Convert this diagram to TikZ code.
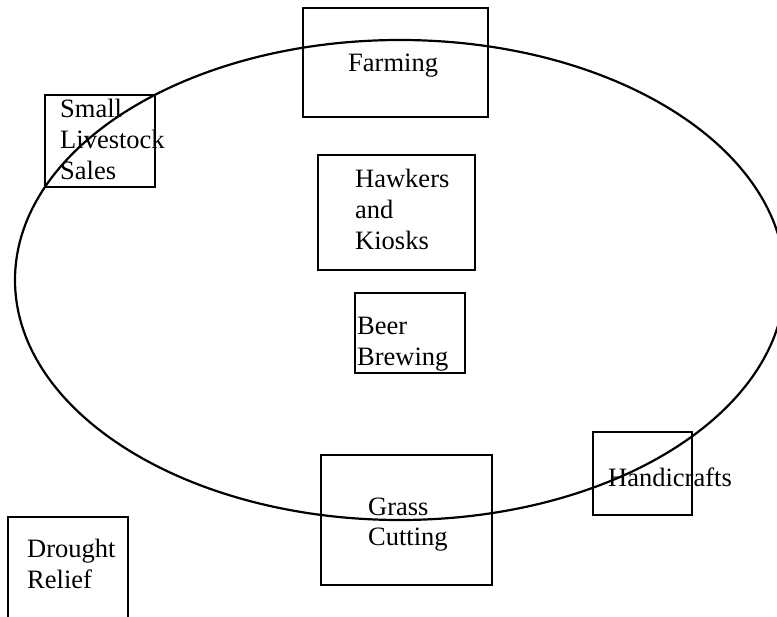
\documentclass[tikz,border=0pt]{standalone}
\usepackage{fontspec}
\setmainfont{Liberation Serif}
\usepackage{tikz}

\tikzset{
  box/.style={draw, line width=2.2pt, inner sep=0pt},
  lbl/.style={inner sep=0pt, anchor=base west, align=left,
    font=\fontsize{26.5}{31}\selectfont},
}

\begin{document}
\begin{tikzpicture}[x=1pt, y=-1pt]
\useasboundingbox (0,0) rectangle (777,617);
% the boxes
\node[box, minimum width=185pt, minimum height=109pt] (farm) at (395.5,62.5) {};
\node[box, minimum width=110pt, minimum height=92pt] (stock) at (100,141) {};
\node[box, minimum width=157pt, minimum height=115pt] (hawk) at (396.5,212.5) {};
\node[box, minimum width=110pt, minimum height=80pt] (beer) at (410,333) {};
\node[box, minimum width=99pt, minimum height=83pt] (craft) at (642.5,473.5) {};
\node[box, minimum width=171pt, minimum height=130pt] (grass) at (406.5,520) {};
\node[box, minimum width=120pt, minimum height=140pt] (relief) at (68,587) {};
% the ring
\draw[line width=2.2pt] (400,280) ellipse [x radius=385pt, y radius=240pt];
% the texts (base = last line)
\node[lbl] (farmtxt) at (348,72) {Farming};
\node[lbl] (stocktxt) at (60,180) {Small\\Livestock\\Sales};
\node[lbl] (hawktxt) at (355,250) {Hawkers\\and\\Kiosks};
\node[lbl] (beertxt) at (357,366) {Beer\\Brewing};
\node[lbl] (crafttxt) at (608,487) {Handicrafts};
\node[lbl] (grasstxt) at (368,546) {Grass\\Cutting};
\node[lbl] (relieftxt) at (27,588) {Drought\\Relief};
\end{tikzpicture}
\end{document}
